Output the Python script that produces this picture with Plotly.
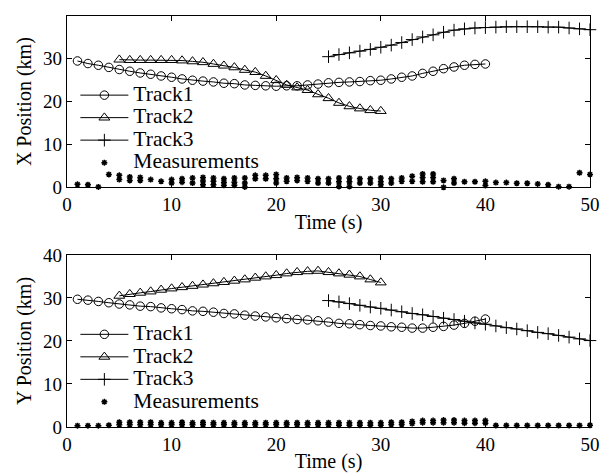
import plotly.graph_objects as go

# ---------------- data ----------------
time_track1 = list(range(1, 41))
time_track2 = list(range(5, 31))
time_track3 = list(range(25, 51))

track1_x = [29.5, 28.9, 28.5, 28.0, 27.5, 27.1, 26.7, 26.4, 26.0, 25.7,
            25.3, 25.0, 24.8, 24.6, 24.3, 24.2, 23.9, 23.8, 23.7, 23.6,
            23.7, 23.7, 23.9, 24.1, 24.4, 24.5, 24.6, 24.7, 24.9, 25.0,
            25.3, 25.7, 26.0, 26.6, 27.1, 27.7, 28.1, 28.5, 28.7, 28.8]
track2_x = [29.8, 29.7, 29.7, 29.7, 29.7, 29.7, 29.6, 29.4, 29.2, 28.8,
            28.4, 28.0, 27.4, 26.9, 26.0, 25.0, 23.9, 23.3, 22.7, 21.7,
            20.8, 19.7, 18.9, 18.4, 18.0, 17.8]
track3_x = [30.5, 31.0, 31.4, 31.8, 32.2, 32.7, 33.2, 33.8, 34.5, 35.1,
            35.6, 36.2, 36.7, 37.0, 37.2, 37.3, 37.4, 37.5, 37.5, 37.5,
            37.5, 37.4, 37.4, 37.2, 37.0, 36.8]

track1_y = [29.7, 29.5, 29.2, 28.9, 28.6, 28.4, 28.1, 28.0, 27.7, 27.5,
            27.3, 27.0, 26.9, 26.7, 26.4, 26.3, 26.0, 25.8, 25.6, 25.4,
            25.2, 25.0, 24.9, 24.7, 24.4, 24.1, 24.0, 23.8, 23.6, 23.5,
            23.3, 23.2, 23.0, 23.0, 23.2, 23.4, 23.7, 24.1, 24.6, 25.1]
track2_y = [30.5, 30.9, 31.2, 31.5, 31.9, 32.2, 32.5, 32.8, 33.1, 33.4,
            33.7, 34.0, 34.3, 34.7, 35.0, 35.3, 35.7, 36.0, 36.2, 36.3,
            36.0, 35.7, 35.4, 35.0, 34.3, 33.6]
track3_y = [29.4, 29.1, 28.7, 28.3, 27.9, 27.6, 27.2, 26.8, 26.4, 26.1,
            25.7, 25.3, 25.0, 24.6, 24.2, 23.9, 23.5, 23.1, 22.8, 22.4,
            22.0, 21.7, 21.3, 20.9, 20.5, 20.1]

meas_x_time = [1, 2, 3, 4, 5, 5, 6, 6, 7, 7, 8, 9, 10, 10, 11, 11, 12, 12,
               13, 13, 13, 14, 14, 14, 15, 15, 15, 16, 16, 16, 17, 17, 17,
               18, 18, 19, 19, 20, 20, 20, 21, 21, 22, 22, 23, 23, 24, 24,
               25, 25, 26, 26, 26, 27, 27, 27, 28, 28, 29, 29, 30, 30, 30,
               31, 31, 32, 32, 33, 33, 34, 34, 34, 35, 35, 35, 36, 36,
               37, 37, 38, 39, 40, 40, 41, 42, 43, 44, 45, 46, 47, 48, 49, 50]
meas_x_vals = [0.7, 0.6, 0.1, 3.0, 2.8, 1.8, 2.4, 1.6, 2.3, 1.6, 1.8, 1.4, 1.8, 1.0,
               2.0, 1.2, 2.2, 1.0, 2.3, 1.5, 0.6, 2.2, 1.4, 0.6, 2.0, 1.2, 0.5,
               2.2, 1.2, 0.5, 2.2, 1.0, 0.1, 2.8, 2.0, 2.8, 2.0, 3.0, 2.0, 1.0,
               2.2, 1.4, 2.3, 1.6, 2.2, 1.4, 2.0, 1.0, 2.0, 1.0, 2.2, 1.3, 0.2,
               2.2, 1.3, 0.2, 2.0, 1.0, 2.0, 1.0, 2.2, 1.3, 0.6, 2.0, 1.0,
               2.2, 1.4, 2.6, 1.4, 3.1, 2.3, 1.3, 3.1, 2.3, 1.3, 1.6, 0.0,
               2.0, 1.0, 1.3, 1.3, 1.4, 0.4, 1.1, 1.1, 0.95, 0.95, 0.8, 0.6,
               0.15, 0.15, 3.4, 3.0]

meas_y_time = [1, 2, 3, 4,
               5, 5, 6, 6, 7, 7, 8, 8, 9, 9, 10, 10, 11, 11, 12, 12, 13, 13,
               14, 14, 15, 15, 16, 16, 17, 17, 18, 18, 19, 19, 20, 20, 21, 21,
               22, 22, 23, 23, 24, 24, 25, 25, 26, 26, 27, 27, 28, 28, 29, 29,
               30, 30, 31, 31, 32, 32, 33, 33, 34, 34, 35, 35, 36, 36, 37, 37,
               38, 38, 39, 39, 40, 40,
               41, 42, 43, 44, 45, 46, 47, 48, 49, 50]
meas_y_vals = [0.3, 0.3, 0.3, 0.4,
               1.1, 0.5, 1.1, 0.5, 1.1, 0.5, 1.1, 0.5, 1.0, 0.5, 1.0, 0.5,
               1.1, 0.5, 1.0, 0.5, 1.1, 0.5, 1.0, 0.5, 1.0, 0.5, 1.0, 0.5,
               1.0, 0.5, 1.0, 0.5, 1.0, 0.5, 1.0, 0.5, 1.0, 0.5, 1.0, 0.5,
               1.0, 0.5, 1.0, 0.5, 1.0, 0.5, 1.0, 0.4, 1.0, 0.4, 1.0, 0.4,
               1.0, 0.4, 1.0, 0.4, 1.1, 0.6, 1.1, 0.6, 1.3, 0.8, 1.5, 1.0,
               1.5, 1.0, 1.6, 1.0, 1.6, 1.0, 1.5, 0.9, 1.5, 0.9, 1.5, 0.9,
               0.35, 0.35, 0.35, 0.35, 0.35, 0.35, 0.35, 0.35, 0.35, 0.4]

track_names = ["Track1", "Track2", "Track3", "Measurements"]
x_ticks = [0, 10, 20, 30, 40, 50]
y_ticks = [0, 10, 20, 30, 40]

# ---------------- styling ----------------
FONT = "Liberation Serif, Times New Roman, serif"
BLACK = "#000000"
LEG_SPAN = '<span style="font-size:21.5px">{}</span>'

def track_traces(xa, ya, legend, ys):
    styles = [
        dict(symbol="circle-open", size=8.5),
        dict(symbol="triangle-up-open", size=9.5),
        dict(symbol="cross-thin-open", size=9),
    ]
    times = [time_track1, time_track2, time_track3]
    out = []
    for name, t, v, st in zip(track_names[:3], times, ys, styles):
        out.append(go.Scatter(
            x=t, y=v, mode="lines+markers", name=LEG_SPAN.format(name),
            xaxis=xa, yaxis=ya, legend=legend, cliponaxis=False,
            line=dict(color=BLACK, width=1),
            marker=dict(symbol=st["symbol"], size=st["size"], color=BLACK,
                        line=dict(color=BLACK, width=1)),
        ))
    return out

meas_marker = dict(symbol="asterisk-open", size=5, color=BLACK,
                   line=dict(color=BLACK, width=1.5))

fig = go.Figure()
for tr in track_traces("x", "y", "legend", [track1_x, track2_x, track3_x]):
    fig.add_trace(tr)
fig.add_trace(go.Scatter(
    x=meas_x_time, y=meas_x_vals, mode="markers", name=LEG_SPAN.format(track_names[3]),
    xaxis="x", yaxis="y", legend="legend", cliponaxis=False, marker=meas_marker,
))
for tr in track_traces("x2", "y2", "legend2", [track1_y, track2_y, track3_y]):
    fig.add_trace(tr)
fig.add_trace(go.Scatter(
    x=meas_y_time, y=meas_y_vals, mode="markers", name=LEG_SPAN.format(track_names[3]),
    xaxis="x2", yaxis="y2", legend="legend2", cliponaxis=False, marker=meas_marker,
))

axis_common = dict(
    showline=True, linecolor=BLACK, linewidth=1.3, mirror="ticks",
    ticks="inside", ticklen=5, tickwidth=1, tickcolor=BLACK,
    showgrid=False, zeroline=False,
    tickfont=dict(family=FONT, size=19, color=BLACK),
)

legend_common = dict(
    xanchor="left", yanchor="top", bgcolor="rgba(0,0,0,0)",
    font=dict(family=FONT, size=15, color=BLACK),
    itemwidth=48, tracegroupgap=0, borderwidth=0,
)

# the page body adds an 8px offset, so the figure is 8px smaller than the window
fig.update_layout(
    width=600, height=468,
    margin=dict(l=59, r=18, t=8, b=49, autoexpand=False),
    paper_bgcolor="white", plot_bgcolor="white",
    font=dict(family=FONT, color=BLACK),
    xaxis=dict(domain=[0, 1], range=[0, 50], tickvals=x_ticks, anchor="y",
               title=dict(text="Time (s)", font=dict(family=FONT, size=20), standoff=0),
               **axis_common),
    yaxis=dict(domain=[0.5832, 1], range=[0, 40], tickvals=y_ticks, anchor="x",
               title=dict(text="X Position (km)", font=dict(family=FONT, size=20), standoff=6),
               **axis_common),
    xaxis2=dict(domain=[0, 1], range=[0, 50], tickvals=x_ticks, anchor="y2",
                title=dict(text="Time (s)", font=dict(family=FONT, size=20), standoff=0),
                **axis_common),
    yaxis2=dict(domain=[0, 0.4185], range=[0, 40], tickvals=y_ticks, anchor="x2",
                title=dict(text="Y Position (km)", font=dict(family=FONT, size=20), standoff=6),
                **axis_common),
    legend=dict(x=0.016, y=0.847, **legend_common),
    legend2=dict(x=0.016, y=0.265, **legend_common),
    showlegend=True,
)

fig.write_html("out.html")
